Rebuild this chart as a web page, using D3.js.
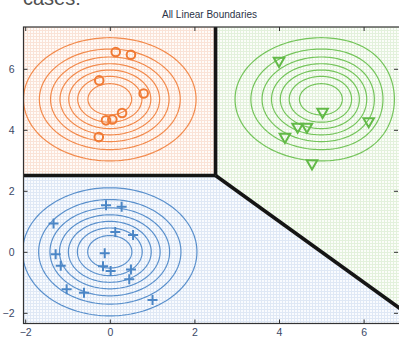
<!DOCTYPE html>
<html>
<head>
<meta charset="utf-8">
<script src="https://cdn.jsdelivr.net/npm/d3@7"></script>
<style>
  html, body { margin: 0; padding: 0; background: #fff; }
  svg { display: block; }
</style>
</head>
<body>
<svg id="chart" width="399" height="339"></svg>
<script>
// Three Gaussian classes and their training samples
const classNames = ["orange", "green", "blue"];
const classColors = ["#f07a34", "#62b947", "#4b86c6"];
const contourColors = ["#f28a4c", "#74c45a", "#5a90cc"];

// class means and spreads (x, y)
const meanX = [0, 5, 0];
const meanY = [5, 5, 0];
const sigmaX = [1.0, 1.0, 1.01];
const sigmaY = [0.99, 0.99, 1.03];
// right-hand flattening of the green density contours
const rightSquash = [0, 0.075, 0];

// density levels drawn, as fractions of each peak
const levels = [1/8, 2/8, 3/8, 4/8, 5/8, 6/8, 7/8];

const orangeX = [0.14, 0.50, -0.25, 0.80, 0.29, 0.06, -0.09, -0.26];
const orangeY = [6.55, 6.46, 5.62, 5.19, 4.55, 4.34, 4.31, 3.76];

const greenX = [4.00, 5.03, 6.12, 4.44, 4.66, 4.14, 4.78];
const greenY = [6.26, 4.59, 4.28, 4.10, 4.10, 3.77, 2.90];

const blueX = [-0.09, 0.28, -1.33, 0.13, 0.55, -1.28, -0.12, -1.16, -0.16, 0.02, 0.50, 0.46, -1.02, -0.61, 1.01];
const blueY = [1.53, 1.48, 0.93, 0.65, 0.55, -0.08, -0.05, -0.46, -0.47, -0.63, -0.58, -0.90, -1.23, -1.34, -1.58];

const xTicks = [-2, 0, 2, 4, 6];
const yTicks = [-2, 0, 2, 4, 6];

// decision boundaries: x = 2.5, y = 2.5, x + y = 5
const boundaryX = 2.5;
const boundaryY = 2.5;
const boundarySum = 5;

const titleText = "All Linear Boundaries";

const svg = d3.select("#chart");
const plotLeft = 23.5, plotRight = 400, plotTop = 27, plotBottom = 323.5;

const x = d3.scaleLinear().domain([-2.04, 6.86]).range([plotLeft, plotRight]);
const y = d3.scaleLinear().domain([-2.35, 7.37]).range([plotBottom, plotTop]);
const [x0, x1] = x.domain();
const [y0, y1] = y.domain();

// surrounding page text, partially visible above the figure
svg.append("text")
  .attr("x", 23).attr("y", 5)
  .attr("font-family", "Liberation Sans, Arial, sans-serif")
  .attr("font-size", 20)
  .attr("fill", "#505050")
  .text("cases:");

svg.append("text")
  .attr("x", 209.5).attr("y", 17.5)
  .attr("text-anchor", "middle")
  .attr("font-family", "Liberation Sans, Arial, sans-serif")
  .attr("font-size", 10)
  .attr("fill", "#2b3347")
  .text(titleText);

// region fill patterns: light wash with a fine grid
const defs = svg.append("defs");
const regionStyles = [
  { base: "#fffbf8", line: "#fae3d7" },
  { base: "#fbfdf9", line: "#e3f1dc" },
  { base: "#f9fbfe", line: "#dfe8f5" }
];
regionStyles.forEach((s, i) => {
  const p = defs.append("pattern")
    .attr("id", "grid-" + classNames[i])
    .attr("width", 3).attr("height", 3)
    .attr("patternUnits", "userSpaceOnUse");
  p.append("rect").attr("width", 3).attr("height", 3).attr("fill", s.base);
  p.append("rect").attr("x", 0).attr("y", 0).attr("width", 3).attr("height", 1).attr("fill", s.line);
  p.append("rect").attr("x", 0).attr("y", 0).attr("width", 1).attr("height", 3).attr("fill", s.line);
});

defs.append("clipPath").attr("id", "plot-clip")
  .append("rect").attr("x", plotLeft).attr("y", plotTop)
  .attr("width", plotRight - plotLeft).attr("height", plotBottom - plotTop);

const plot = svg.append("g").attr("clip-path", "url(#plot-clip)");
const poly = d3.line().x(d => x(d[0])).y(d => y(d[1]));

// class regions in data coordinates
const regions = [
  [[x0, boundaryY], [boundaryX, boundaryY], [boundaryX, y1], [x0, y1]],
  [[boundaryX, y1], [boundaryX, boundaryY], [x1, boundarySum - x1], [x1, y1]],
  [[x0, y0], [x1, y0], [x1, boundarySum - x1], [boundaryX, boundaryY], [x0, boundaryY]]
];
regions.forEach((r, i) => {
  plot.append("path")
    .attr("d", poly(r) + "Z")
    .attr("fill", "url(#grid-" + classNames[i] + ")");
});

// density contours for each class
const ring = d3.line().x(d => x(d[0])).y(d => y(d[1])).curve(d3.curveLinearClosed);
classNames.forEach((c, i) => {
  levels.forEach(l => {
    const r = Math.sqrt(-2 * Math.log(l));
    const pts = d3.range(0, 360, 2).map(a => {
      const t = a * Math.PI / 180;
      let dx = r * sigmaX[i] * Math.cos(t);
      if (dx > 0) dx *= (1 - rightSquash[i] * dx);
      const dy = r * sigmaY[i] * Math.sin(t);
      return [meanX[i] + dx, meanY[i] + dy];
    });
    plot.append("path")
      .attr("d", ring(pts))
      .attr("fill", "none")
      .attr("stroke", contourColors[i])
      .attr("stroke-width", 1.2);
  });
});

// boundary lines
const boundaryLines = [
  [[x0, boundaryY], [boundaryX, boundaryY]],
  [[boundaryX, y1], [boundaryX, boundaryY]],
  [[boundaryX, boundaryY], [x1, boundarySum - x1]]
];
boundaryLines.forEach(b => {
  plot.append("path")
    .attr("d", poly(b))
    .attr("fill", "none")
    .attr("stroke", "#151515")
    .attr("stroke-width", 3.6)
    .attr("stroke-linejoin", "miter");
});

// samples
const orangePts = orangeX.map((v, i) => [v, orangeY[i]]);
const greenPts = greenX.map((v, i) => [v, greenY[i]]);
const bluePts = blueX.map((v, i) => [v, blueY[i]]);

plot.selectAll("circle.orange").data(orangePts).join("circle")
  .attr("class", "orange")
  .attr("cx", d => x(d[0])).attr("cy", d => y(d[1]))
  .attr("r", 4.3)
  .attr("fill", "none")
  .attr("stroke", classColors[0])
  .attr("stroke-width", 2);

const tri = d3.symbol().type(d3.symbolTriangle).size(48);
plot.selectAll("path.green").data(greenPts).join("path")
  .attr("class", "green")
  .attr("d", tri)
  .attr("transform", d => `translate(${x(d[0])},${y(d[1])}) rotate(180)`)
  .attr("fill", "none")
  .attr("stroke", classColors[1])
  .attr("stroke-width", 2);

const plus = "M-5,0H5M0,-5V5";
plot.selectAll("path.blue").data(bluePts).join("path")
  .attr("class", "blue")
  .attr("d", plus)
  .attr("transform", d => `translate(${x(d[0])},${y(d[1])})`)
  .attr("fill", "none")
  .attr("stroke", classColors[2])
  .attr("stroke-width", 2);

// frame and axes
const axisColor = "#333";
const labelColor = "#3a4866";

svg.append("rect")
  .attr("x", plotLeft).attr("y", plotTop)
  .attr("width", plotRight - plotLeft).attr("height", plotBottom - plotTop)
  .attr("fill", "none")
  .attr("stroke", axisColor)
  .attr("stroke-width", 1.2);

function styleAxis(g, showLabels) {
  g.select(".domain").remove();
  g.selectAll(".tick line").attr("stroke", axisColor).attr("stroke-width", 1);
  g.selectAll(".tick text")
    .attr("fill", labelColor)
    .attr("font-family", "Liberation Sans, Arial, sans-serif")
    .attr("font-size", 10.5)
    .attr("opacity", showLabels ? 1 : 0);
}

svg.append("g")
  .attr("transform", `translate(0,${plotBottom})`)
  .call(d3.axisBottom(x).tickValues(xTicks).tickSize(-4).tickPadding(5).tickFormat(d3.format("d")))
  .call(g => styleAxis(g, true));

svg.append("g")
  .attr("transform", `translate(0,${plotTop})`)
  .call(d3.axisTop(x).tickValues(xTicks).tickSize(-4).tickFormat(""))
  .call(g => styleAxis(g, false));

svg.append("g")
  .attr("transform", `translate(${plotLeft},0)`)
  .call(d3.axisLeft(y).tickValues(yTicks).tickSize(-4).tickPadding(9).tickFormat(d3.format("d")))
  .call(g => styleAxis(g, true));

svg.append("g")
  .attr("transform", `translate(${plotRight - 2},0)`)
  .call(d3.axisRight(y).tickValues(yTicks).tickSize(-4).tickFormat(""))
  .call(g => styleAxis(g, false));
</script>
</body>
</html>
